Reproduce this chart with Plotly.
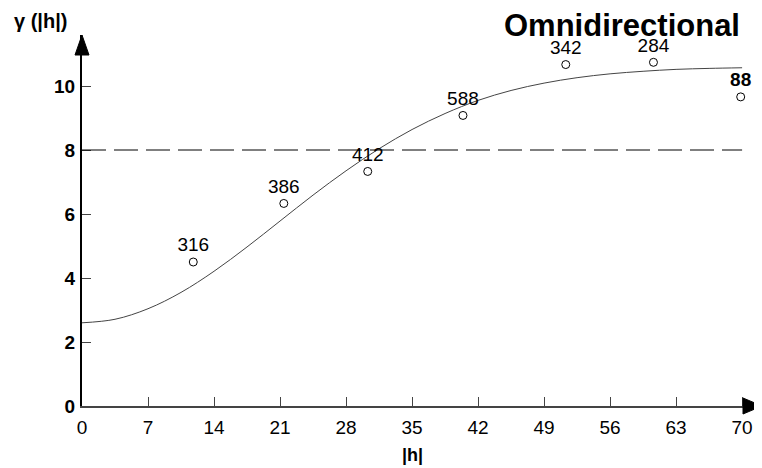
import plotly.graph_objects as go

# Experimental semivariogram points (lag distance, semivariance, number of pairs)
lag = [11.8, 21.4, 30.3, 40.4, 51.3, 60.6, 69.85]
gamma = [4.5, 6.33, 7.33, 9.08, 10.67, 10.74, 9.66]
pairs = ["316", "386", "412", "588", "342", "284", "88"]

# Fitted model curve
curve_h = [0, 3.5, 7, 10.5, 14, 17.5, 21, 24.5, 28, 31.5, 35, 38.5, 42, 45.5, 49,
           52.5, 56, 59.5, 63, 66.5, 70]
curve_g = [2.60, 2.71, 3.04, 3.55, 4.21, 4.97, 5.78, 6.59, 7.35, 8.04, 8.64, 9.14,
           9.55, 9.86, 10.09, 10.26, 10.38, 10.46, 10.52, 10.55, 10.57]

sill_level = 8
x_ticks = [0, 7, 14, 21, 28, 35, 42, 49, 56, 63, 70]
y_ticks = [0, 2, 4, 6, 8, 10]

OFF = 8  # page body margin
W, H = 762 - OFF, 468 - OFF
ML, MR, MT, MB = 82 - OFF, 0, 35 - OFF, 62
PW, PH = W - ML - MR, H - MT - MB

FONT = "Liberation Sans, Arial, sans-serif"


def px(xp):
    return (xp - OFF - ML) / PW


def py(yp):
    return (H - MB - (yp - OFF)) / PH


labels = pairs[:-1] + ["<b>" + pairs[-1] + "</b>"]

fig = go.Figure()
fig.add_trace(go.Scatter(x=curve_h, y=curve_g, mode="lines", line_shape="spline",
                         line=dict(color="#444444", width=1), hoverinfo="skip"))
fig.add_trace(go.Scatter(x=lag, y=gamma, mode="markers+text", text=labels,
                         textposition="top center", cliponaxis=False,
                         textfont=dict(family=FONT, size=19, color="black"),
                         marker=dict(symbol="circle-open", size=8,
                                     color="black", line=dict(width=1))))

fig.add_shape(type="line", xref="x", yref="y", x0=0, x1=70, y0=sill_level, y1=sill_level,
              line=dict(color="black", width=1, dash="24px,8px"))

# axis arrowheads
ax_w = 7 / PW
ax_h = 20 / PH
fig.add_shape(type="path", xref="paper", yref="paper",
              path=f"M {-ax_w} {1-ax_h} L {ax_w} {1-ax_h} L 0 1 Z",
              fillcolor="black", line=dict(color="black", width=1))
bx_w = 19 / PW
bx_h = 8 / PH
fig.add_shape(type="path", xref="paper", yref="paper",
              path=f"M {1-bx_w} {-bx_h} L {1-bx_w} {bx_h} L 1 0 Z",
              fillcolor="black", line=dict(color="black", width=1))

fig.add_annotation(text="<b>Omnidirectional</b>", xref="paper", yref="paper",
                   x=px(622), y=py(26), showarrow=False,
                   xanchor="center", yanchor="middle",
                   font=dict(family=FONT, size=31, color="black"))
fig.add_annotation(text="<b>γ (|h|)</b>", xref="paper", yref="paper",
                   x=px(40), y=py(21), showarrow=False,
                   xanchor="center", yanchor="middle",
                   font=dict(family=FONT, size=20, color="black"))
fig.add_annotation(text="<b>|h|</b>", xref="x", yref="paper",
                   x=35, y=py(455), showarrow=False,
                   xanchor="center", yanchor="middle",
                   font=dict(family=FONT, size=18, color="black"))

fig.update_layout(
    width=W, height=H, showlegend=False,
    paper_bgcolor="white", plot_bgcolor="white",
    margin=dict(l=ML, r=MR, t=MT, b=MB),
    font=dict(family=FONT, size=16, color="black"),
    xaxis=dict(range=[0, PW / 9.43], tickvals=x_ticks, showgrid=False, zeroline=False,
               automargin=False,
               showline=True, linecolor="#444444", linewidth=1.5,
               ticks="inside", ticklen=9, tickcolor="#444444", ticklabelstandoff=3,
               tickfont=dict(family=FONT, size=19, color="black")),
    yaxis=dict(range=[0, PH / 32.0], tickvals=y_ticks, showgrid=False, zeroline=False,
               automargin=False,
               showline=True, linecolor="black", linewidth=2,
               ticks="inside", ticklen=9, tickcolor="#444444", ticklabelstandoff=1,
               tickfont=dict(family=FONT, size=19, color="black", weight="bold")),
)

fig.write_html("out.html")
